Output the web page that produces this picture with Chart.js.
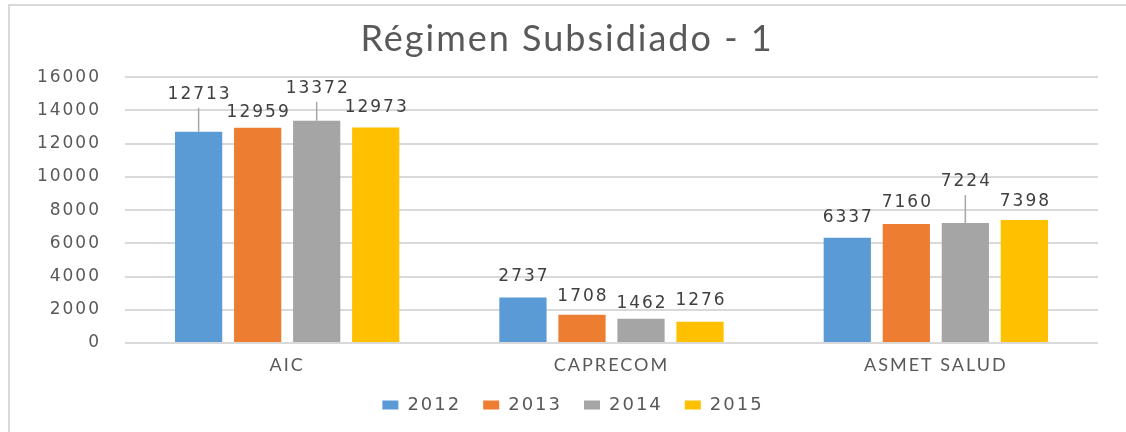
<!DOCTYPE html>
<html>
<head>
<meta charset="utf-8">
<script src="https://cdn.jsdelivr.net/npm/chart.js@4/dist/chart.umd.min.js"></script>
<style>
  html, body { margin: 0; padding: 0; background: #fff; }
  #frame { position: absolute; left: 8px; top: 4px; width: 1126px; height: 440px; border-top: 2px solid #d9d9d9; border-left: 2px solid #d9d9d9; }
  #chart { position: absolute; left: 0; top: 0; }
</style>
</head>
<body>
<div id="frame"></div>
<canvas id="chart" width="1126" height="432"></canvas>
<script>
const categorias = ["AIC", "CAPRECOM", "ASMET SALUD"];
const anios = ["2012", "2013", "2014", "2015"];
const v2012 = [12713, 2737, 6337];
const v2013 = [12959, 1708, 7160];
const v2014 = [13372, 1462, 7224];
const v2015 = [12973, 1276, 7398];
const colores = ["#5b9bd5", "#ed7d31", "#a5a5a5", "#ffc000"];

// distancia (px) de la etiqueta sobre la barra, por serie
const alturaEtiqueta = [
    [37, 21, 20],
    [15, 18, 21],
    [32, 15, 41],
    [20, 21, 19],
];

const ESP = "2px";
const espaciado = {
    id: "espaciado",
    afterInit: (c) => { c.ctx.letterSpacing = ESP; },
    beforeLayout: (c) => { c.ctx.letterSpacing = ESP; },
    beforeDraw: (c) => { c.ctx.letterSpacing = ESP; },
    // titulo y leyenda van algo corridos a la derecha en el original
    afterLayout: (c) => {
        c.legend.left += 24; c.legend.right += 24;
        c.titleBlock.left += 18; c.titleBlock.right += 18;
    },
};

const etiquetas = {
    id: "etiquetas",
    afterDatasetsDraw(chart) {
        const ctx = chart.ctx;
        ctx.save();
        ctx.font = "17px 'DejaVu Sans'";
        ctx.textAlign = "center";
        ctx.textBaseline = "middle";
        chart.data.datasets.forEach((ds, i) => {
            chart.getDatasetMeta(i).data.forEach((bar, j) => {
                const lift = alturaEtiqueta[i][j];
                const yc = bar.y - lift;
                if (lift > 30) {
                    ctx.strokeStyle = "#a6a6a6";
                    ctx.lineWidth = 1.5;
                    ctx.beginPath();
                    ctx.moveTo(bar.x, yc + 13);
                    ctx.lineTo(bar.x, bar.y);
                    ctx.stroke();
                }
                ctx.fillStyle = "#404040";
                ctx.fillText(String(ds.data[j]), bar.x + 1, yc);
            });
        });
        ctx.restore();
    },
};

const series = [v2012, v2013, v2014, v2015];

new Chart(document.getElementById("chart").getContext("2d"), {
    type: "bar",
    data: {
        labels: categorias,
        datasets: series.map((s, i) => ({
            label: anios[i],
            data: s,
            backgroundColor: colores[i],
            borderWidth: 0,
            categoryPercentage: 0.728,
            barPercentage: 0.8,
        })),
    },
    options: {
        responsive: false,
        animation: false,
        layout: { padding: { left: 0, right: 28, top: 0, bottom: 8 } },
        plugins: {
            title: {
                display: true,
                text: "Régimen Subsidiado - 1",
                font: { family: "Lato", size: 36, weight: "normal" },
                color: "#595959",
                padding: { top: 18, bottom: 16 },
            },
            legend: {
                position: "bottom",
                labels: {
                    boxWidth: 16,
                    boxHeight: 9,
                    padding: 22,
                    font: { family: "DejaVu Sans", size: 18 },
                    color: "#595959",
                },
            },
            tooltip: { enabled: false },
        },
        scales: {
            x: {
                grid: { display: false, drawTicks: false },
                border: { display: false },
                ticks: { padding: 11, font: { family: "Lato", size: 18 }, color: "#595959" },
                afterFit: (s) => { s.height = 31; },
            },
            y: {
                min: 0,
                max: 16000,
                ticks: {
                    stepSize: 2000,
                    padding: 24,
                    font: { family: "DejaVu Sans", size: 17 },
                    color: "#595959",
                    callback: (v) => String(v),
                },
                grid: { color: "#d9d9d9", lineWidth: 2, drawTicks: false },
                border: { display: false },
                afterFit: (s) => { s.width = 125; },
            },
        },
    },
    plugins: [espaciado, etiquetas],
});
</script>
</body>
</html>
